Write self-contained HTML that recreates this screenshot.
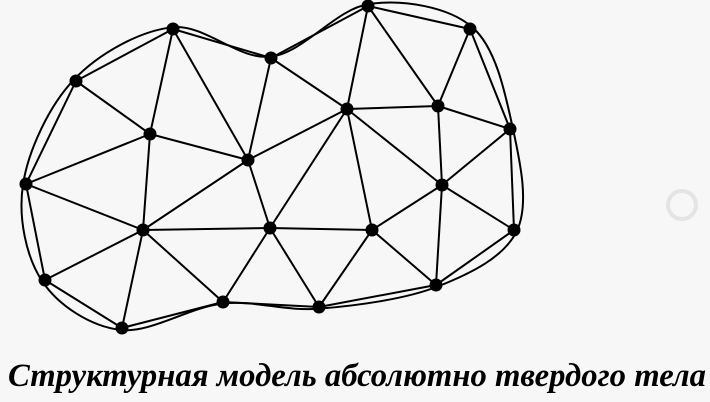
<!DOCTYPE html>
<html><head><meta charset="utf-8"><style>
html,body{margin:0;padding:0;background:#f7f7f7;}
svg{display:block}
</style></head><body>
<svg id="c" width="710" height="402" viewBox="0 0 710 402">
<rect width="710" height="402" fill="#f7f7f7"/>
<g id="edges" stroke="#000" stroke-width="2" fill="none"></g>
<path id="outline" stroke="#000" stroke-width="2" fill="none"/>
<g id="nodes" fill="#000"></g>
<circle cx="682" cy="205" r="14" fill="none" stroke="#e4e4e4" stroke-width="4"/>
<text x="8" y="386" textLength="698" lengthAdjust="spacingAndGlyphs" font-family="'Liberation Serif', serif" font-style="italic" font-weight="bold" font-size="33" fill="#000">Структурная модель абсолютно твердого тела</text>
</svg>
<script>
const nodeIds=["A","B","C","D","E","F","G","H","I","J","K","L","M","N","O","P","Q","R","S","T","U"];
const nodeX=[173,271,368,470,76,150,248,347,438,510,26,143,270,372,442,514,45,122,223,319,436];
const nodeY=[29,58,6,29,81,134,160,109,106,129,184,230,228,230,185,230,280,328,302,307,285];
const edgeList=["A-E","A-F","A-G","A-B","E-F","F-K","F-G","F-L","K-L","K-E","K-Q","L-Q","L-R","L-M","L-G","L-S","Q-R","R-S","S-M","G-M","G-H","B-G","B-C","C-D","B-H","C-H","C-I","D-I","D-J","H-I","I-J","I-O","J-O","J-P","H-O","H-N","H-M","M-N","M-T","N-T","N-O","N-U","O-P","O-U","P-U","U-T","T-S"];
const boundary=["A","B","C","D","J","P","U","T","S","R","Q","K","E"];
const NS="http://www.w3.org/2000/svg";
const pos={};nodeIds.forEach((id,i)=>pos[id]=[nodeX[i],nodeY[i]]);
const eg=document.getElementById('edges');
edgeList.forEach(e=>{const [a,b]=e.split('-');const l=document.createElementNS(NS,'line');
l.setAttribute('x1',pos[a][0]);l.setAttribute('y1',pos[a][1]);l.setAttribute('x2',pos[b][0]);l.setAttribute('y2',pos[b][1]);


eg.appendChild(l);});
// smooth outline (Catmull-Rom), slightly outward
const cx=270,cy=170,s=1.012;
const pts=boundary.map(id=>[cx+(pos[id][0]-cx)*s,cy+(pos[id][1]-cy)*s]);
let d='M'+pts[0][0]+','+pts[0][1];const n=pts.length;
for(let i=0;i<n;i++){const p0=pts[(i-1+n)%n],p1=pts[i],p2=pts[(i+1)%n],p3=pts[(i+2)%n];
d+=' C'+(p1[0]+(p2[0]-p0[0])/6)+','+(p1[1]+(p2[1]-p0[1])/6)+' '+(p2[0]-(p3[0]-p1[0])/6)+','+(p2[1]-(p3[1]-p1[1])/6)+' '+p2[0]+','+p2[1];}
document.getElementById('outline').setAttribute('d',d+'Z');
const ng=document.getElementById('nodes');
nodeIds.forEach((id,i)=>{const c=document.createElementNS(NS,'circle');
c.setAttribute('cx',nodeX[i]);c.setAttribute('cy',nodeY[i]);c.setAttribute('r',6.5);


ng.appendChild(c);});
</script>
</body></html>
